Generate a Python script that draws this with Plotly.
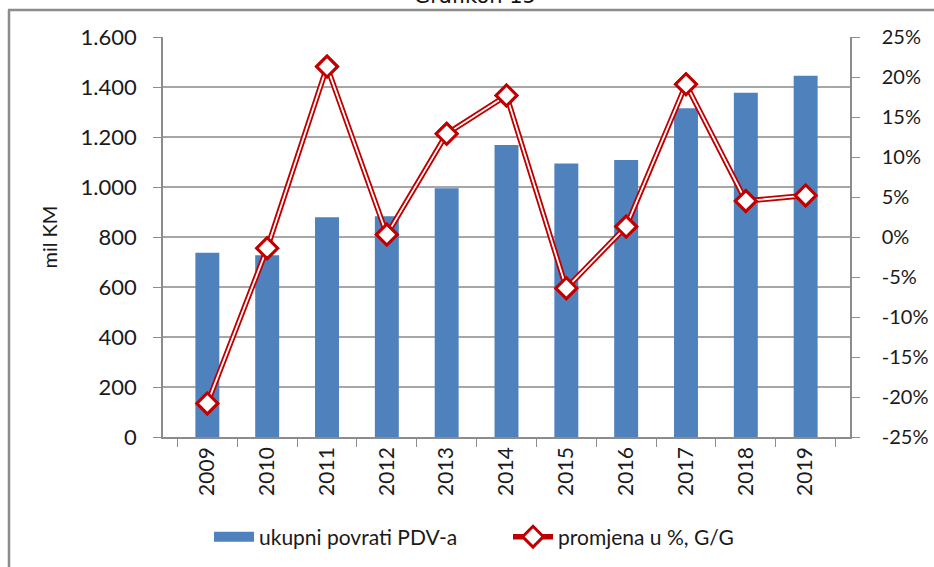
import plotly.graph_objects as go

years = ["2009", "2010", "2011", "2012", "2013", "2014", "2015", "2016", "2017", "2018", "2019"]
povrati = [737, 727, 879, 883, 995, 1168, 1094, 1108, 1315, 1377, 1445]
promjena = [-20.8, -1.4, 21.3, 0.3, 12.9, 17.7, -6.4, 1.3, 19.1, 4.5, 5.2]

left_vals = [0, 200, 400, 600, 800, 1000, 1200, 1400, 1600]
left_text = ["0", "200", "400", "600", "800", "1.000", "1.200", "1.400", "1.600"]
right_vals = [-25, -20, -15, -10, -5, 0, 5, 10, 15, 20, 25]
right_text = ["-25%", "-20%", "-15%", "-10%", "-5%", "0%", "5%", "10%", "15%", "20%", "25%"]

name_bar = "ukupni povrati PDV-a"
name_line = "promjena u %, G/G"
title_text = "Grafikon 15"
ytitle = "mil KM"

RED = "#c00000"
BLUE = "#4f81bd"
FONT = "Lato, 'Open Sans', sans-serif"

fig = go.Figure()
fig.add_trace(go.Bar(x=years, y=povrati, name=name_bar, marker_color=BLUE,
                     marker_line_width=0, yaxis="y", showlegend=False,
                     legendgroup="bar"))
# legend-only entry giving the wide blue swatch of the bar series
fig.add_trace(go.Scatter(x=[None], y=[None], name=name_bar, mode="lines",
                         line=dict(color=BLUE, width=11), legendgroup="bar",
                         yaxis="y", hoverinfo="skip"))
fig.add_trace(go.Scatter(x=years, y=promjena, name=name_line, mode="lines+markers",
                         line=dict(color=RED, width=5.5),
                         marker=dict(symbol="diamond", size=16, color="white",
                                     line=dict(color=RED, width=3)),
                         yaxis="y2", legendgroup="line"))
fig.add_trace(go.Scatter(x=years, y=promjena, mode="lines", showlegend=False,
                         line=dict(color="white", width=1.8), yaxis="y2",
                         hoverinfo="skip", legendgroup="line"))
fig.add_trace(go.Scatter(x=years, y=promjena, mode="markers", showlegend=False,
                         marker=dict(symbol="diamond", size=16, color="white",
                                     line=dict(color=RED, width=3)),
                         yaxis="y2", hoverinfo="skip", legendgroup="line"))

L, R, T, B = 163, 84, 37, 130
W, H = 934, 567
pw, ph = W - L - R, H - T - B

def px_x(x):
    return (x - L) / pw

def px_y(y):
    return (H - B - y) / ph

fig.update_layout(
    width=W, height=H,
    margin=dict(l=L, r=R, t=T, b=B, pad=0, autoexpand=False),
    paper_bgcolor="white", plot_bgcolor="white",
    font=dict(family=FONT, size=22, color="#1a1a1a"),
    bargap=0.6,
    showlegend=True,
    legend=dict(orientation="h", x=px_x(209), xanchor="left", y=px_y(537), yanchor="middle",
                font=dict(size=21, family=FONT), traceorder="normal",
                itemwidth=40, entrywidth=244, entrywidthmode="pixels",
                bgcolor="rgba(0,0,0,0)"),
    xaxis=dict(type="category", showgrid=False, showline=True, linecolor="#8c8c8c",
               linewidth=1.5, ticks="outside", tickson="boundaries", ticklen=8,
               tickcolor="#8c8c8c", tickangle=-90, tickfont=dict(size=21), mirror=False,
               automargin=False),
    yaxis=dict(range=[0, 1600], tickvals=left_vals, ticktext=left_text,
               showgrid=True, gridcolor="#a6a6a6", gridwidth=1.5,
               showline=True, linecolor="#8c8c8c", linewidth=1.5,
               ticks="outside", ticklen=8, tickcolor="#8c8c8c",
               ticklabelstandoff=12, zeroline=False, automargin=False,
               title=dict(text=ytitle, font=dict(size=20), standoff=18)),
    yaxis2=dict(range=[-25, 25], tickvals=right_vals, ticktext=right_text,
                overlaying="y", side="right", showgrid=False, zeroline=False,
                showline=True, linecolor="#8c8c8c", linewidth=1.5,
                ticks="outside", ticklen=8, tickcolor="#8c8c8c",
                tickfont=dict(size=20), ticklabelstandoff=18, automargin=False),
    shapes=[
        dict(type="line", xref="paper", yref="paper", x0=px_x(8), x1=px_x(940),
             y0=px_y(10), y1=px_y(10), line=dict(color="#8c8c8c", width=2.5)),
        dict(type="line", xref="paper", yref="paper", x0=px_x(9), x1=px_x(9),
             y0=px_y(10), y1=px_y(580), line=dict(color="#8c8c8c", width=2.5)),
    ],
    annotations=[
        dict(text=title_text, xref="paper", yref="paper", x=px_x(475), y=px_y(10),
             xanchor="center", yanchor="bottom", showarrow=False,
             font=dict(family="DejaVu Sans, Verdana, sans-serif", size=21, color="#111"))
    ],
)

fig.write_html("out.html", config={"displayModeBar": False})

with open("out.html", "r", encoding="utf-8") as f:
    html = f.read()
html = html.replace("<body>", '<body style="margin:0;padding:0;overflow:hidden">', 1)
with open("out.html", "w", encoding="utf-8") as f:
    f.write(html)
